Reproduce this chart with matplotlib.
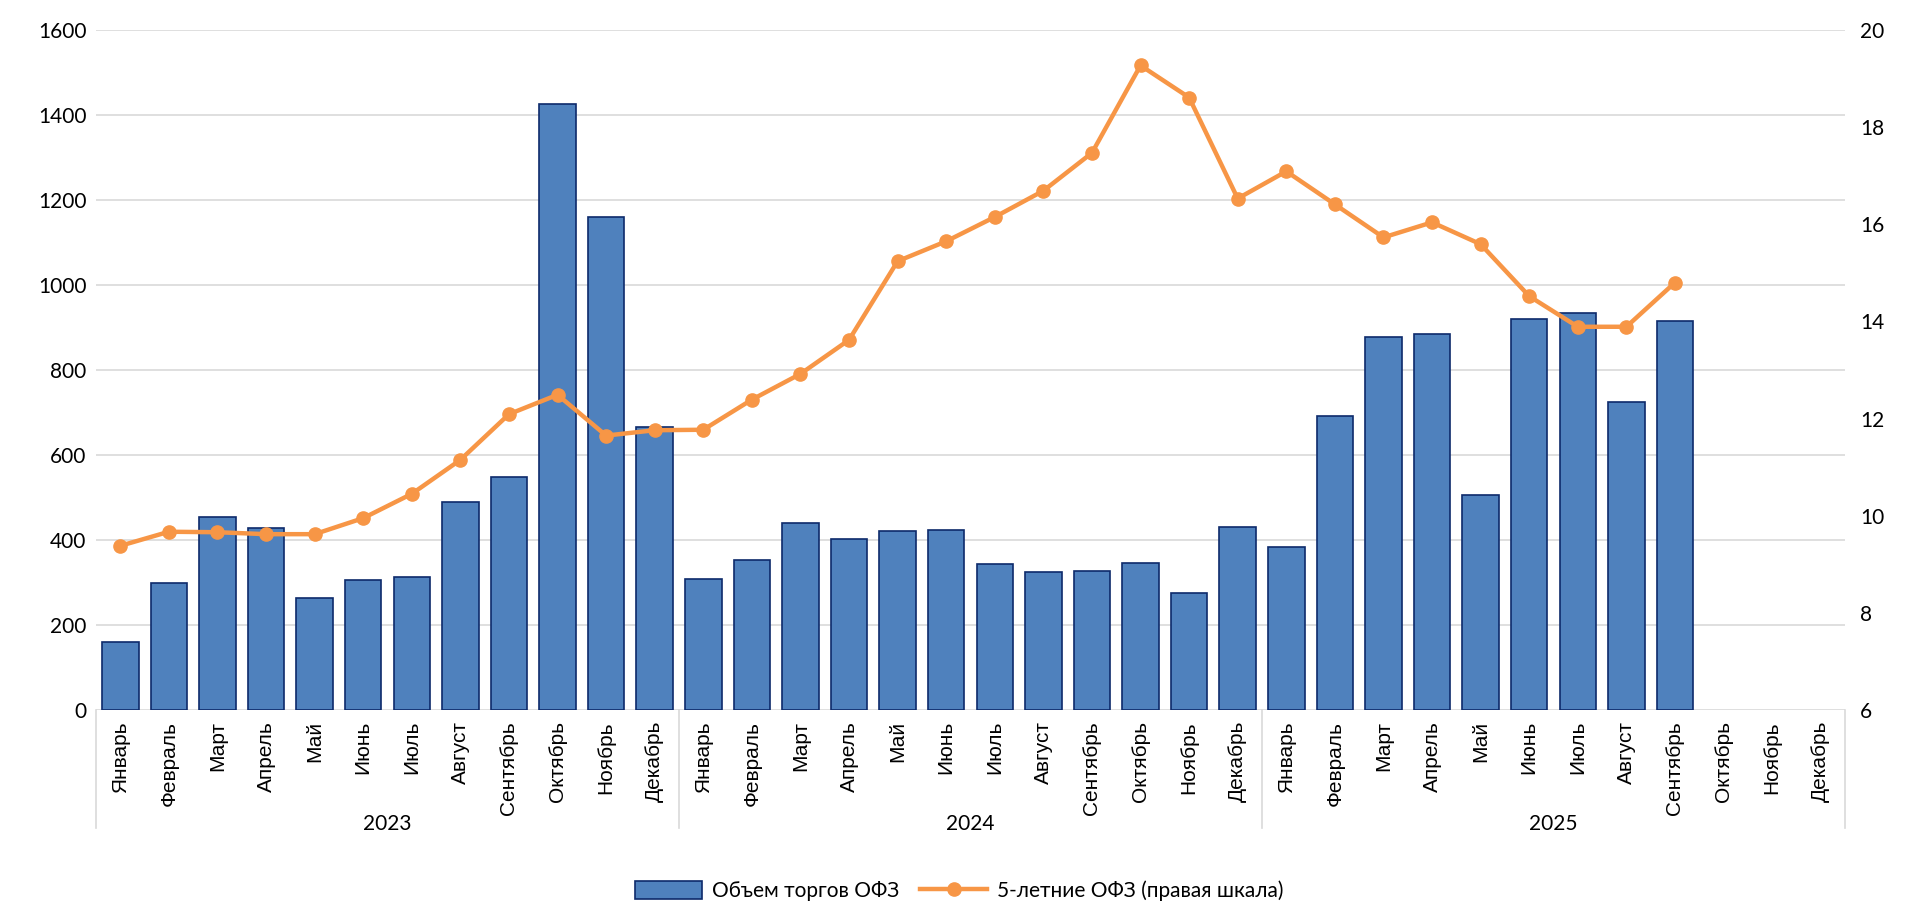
import numpy as np
import matplotlib
matplotlib.use('Agg')
import matplotlib.pyplot as plt
import matplotlib.transforms as mtransforms

# Data
months = ['Январь', 'Февраль', 'Март', 'Апрель', 'Май', 'Июнь',
          'Июль', 'Август', 'Сентябрь', 'Октябрь', 'Ноябрь', 'Декабрь']
years = ['2023', '2024', '2025']

# Объем торгов ОФЗ (left axis)
volume_2023 = [160, 299, 454, 428, 263, 306, 313, 489, 548, 1427, 1160, 667]
volume_2024 = [308, 353, 440, 402, 421, 423, 343, 325, 327, 346, 275, 431]
volume_2025 = [384, 692, 878, 885, 506, 920, 934, 725, 915, np.nan, np.nan, np.nan]

# 5-летние ОФЗ, % (right axis)
rate_2023 = [9.38, 9.67, 9.66, 9.62, 9.62, 9.95, 10.45, 11.15, 12.09, 12.49, 11.65, 11.76]
rate_2024 = [11.77, 12.39, 12.92, 13.62, 15.24, 15.65, 16.15, 16.69, 17.47, 19.27, 18.61, 16.53]
rate_2025 = [17.09, 16.41, 15.73, 16.04, 15.59, 14.52, 13.89, 13.89, 14.80, np.nan, np.nan, np.nan]

volume = np.array(volume_2023 + volume_2024 + volume_2025, dtype=float)
rate = np.array(rate_2023 + rate_2024 + rate_2025, dtype=float)
labels = months * len(years)
x = np.arange(len(labels))

plt.rcParams['font.family'] = ['Lato', 'DejaVu Sans']

fig = plt.figure(figsize=(19.19, 9.09), dpi=100)
ax = fig.add_axes([96 / 1919, 1 - 710 / 909, (1845 - 96) / 1919, 680 / 909])
ax2 = ax.twinx()

bar_color = '#4F81BD'
edge_color = '#0D2A6B'
line_color = '#F79646'
grid_color = '#D9D9D9'

bars = ax.bar(x, volume, width=0.75, color=bar_color, edgecolor=edge_color,
              linewidth=1.2, label='Объем торгов ОФЗ', zorder=2)
line, = ax2.plot(x, rate, color=line_color, linewidth=3.2, marker='o',
                 markersize=9.5, label='5-летние ОФЗ (правая шкала)', zorder=3)

ax.set_xlim(-0.5, len(labels) - 0.5)
ax.set_ylim(0, 1600)
ax.set_yticks(np.arange(0, 1601, 200))
ax2.set_ylim(6, 20)
ax2.set_yticks(np.arange(6, 21, 2))

ax.grid(axis='y', color=grid_color, linewidth=1.2, zorder=0)
ax.set_axisbelow(True)
for a in (ax, ax2):
    for s in a.spines.values():
        s.set_visible(False)

ax.tick_params(axis='y', length=0, pad=7, labelsize=15)
ax2.tick_params(axis='y', length=0, pad=11, labelsize=15)
ax.tick_params(axis='x', length=0, pad=8)
ax.set_xticks(x)
ax.set_xticklabels(labels, rotation=90, fontsize=15, family='Liberation Sans',
                   va='top', ha='center')

# year groups under the month labels
trans = mtransforms.blended_transform_factory(ax.transData, ax.transAxes)
for i, yr in enumerate(years):
    ax.text(i * 12 + 5.5, -0.168, yr, transform=trans, ha='center',
            va='center', fontsize=15)
for b in np.arange(0, len(labels) + 1, 12) - 0.5:
    ax.plot([b, b], [0, -0.174], transform=trans, color=grid_color,
            linewidth=1.2, clip_on=False)

fig.legend(handles=[bars, line], loc='center', bbox_to_anchor=(0.5, 0.02),
           ncol=2, frameon=False, fontsize=15, handlelength=3.2,
           handleheight=1.0, columnspacing=1.0, handletextpad=0.5)

fig.savefig('out.png', dpi=100)
